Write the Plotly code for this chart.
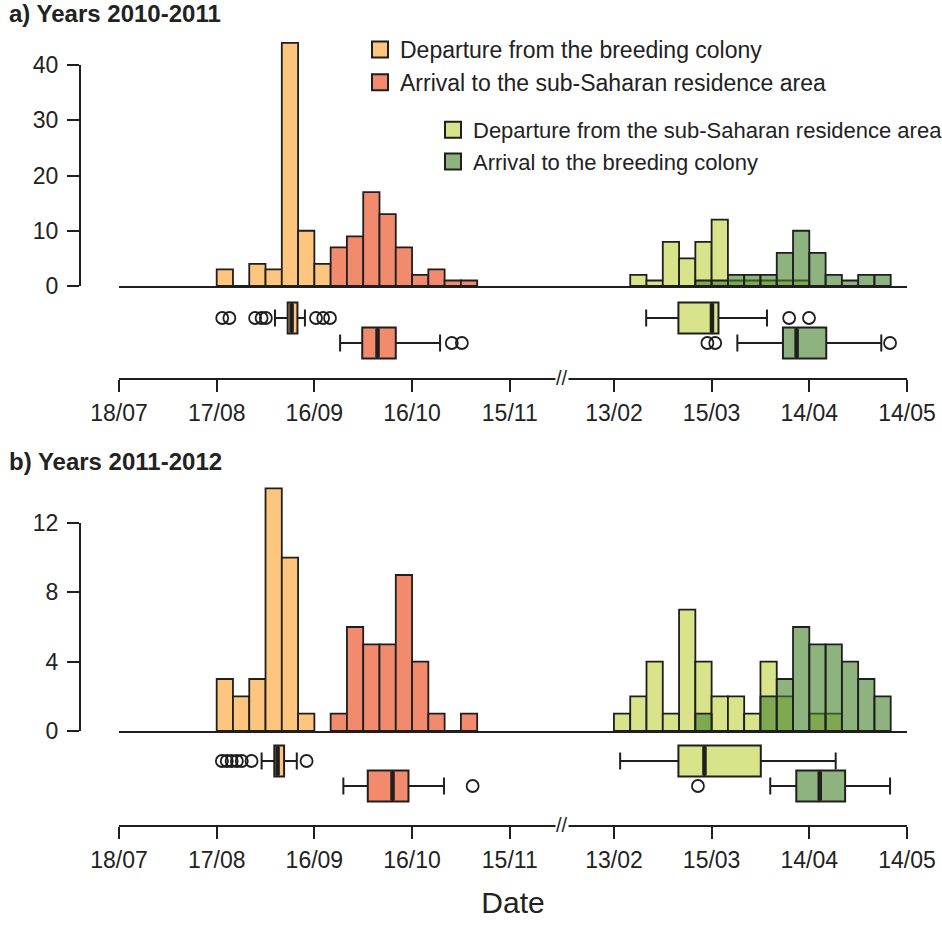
import plotly.graph_objects as go
import pandas as pd

W, H = 942, 932

# ---------------- tick dates / labels ----------------
autumn_tick_dates = ['2010-07-18', '2010-08-17', '2010-09-16', '2010-10-16', '2010-11-15']
spring_tick_dates = ['2011-02-13', '2011-03-15', '2011-04-14', '2011-05-14']
tick_labels = ['18/07', '17/08', '16/09', '16/10', '15/11', '13/02', '15/03', '14/04', '14/05']

BIN_W = 5            # days per histogram bin
SPRING_OFFSET = 152  # axis position where the spring period (13/02) starts after the break

# ---------------- histogram counts (5-day bins) ----------------
# (first bin start in days since period start, counts)
# Panel a: 2010-2011
a_dep_col_start, a_dep_col = 30, [3, 0, 4, 3, 44, 10, 4]
a_arr_sah_start, a_arr_sah = 65, [7, 9, 17, 13, 7, 2, 3, 1, 1]
a_dep_sah_start, a_dep_sah = 5, [2, 1, 8, 5, 8, 12, 1, 1, 1, 1, 1]
a_arr_col_start, a_arr_col = 25, [1, 1, 2, 2, 2, 6, 10, 6, 2, 1, 2, 2]
# Panel b: 2011-2012
b_dep_col_start, b_dep_col = 30, [3, 2, 3, 14, 10, 1]
b_arr_sah_start, b_arr_sah = 65, [1, 6, 5, 5, 9, 4, 1, 0, 1]
b_dep_sah_start, b_dep_sah = 0, [1, 2, 4, 1, 7, 4, 2, 2, 1, 4, 2, 0, 1, 1]
b_arr_col_start, b_arr_col = 25, [1, 0, 0, 0, 2, 3, 6, 5, 5, 4, 3, 2]

# ---------------- boxplot stats: [lower whisker, q1, median, q3, upper whisker] ----------------
a_box_dep_col = [47.9, 51.8, 53.0, 54.8, 57.1]
a_out_dep_col = [31.7, 33.9, 41.8, 43.8, 45.1, 60.5, 62.7, 64.8]
a_box_arr_sah = [67.9, 74.7, 79.4, 85.0, 98.6]
a_out_arr_sah = [102.2, 105.3]
a_box_dep_sah = [9.9, 19.8, 30.1, 32.1, 47.0]
a_out_dep_sah = [53.8, 59.9]
a_box_arr_col = [37.9, 51.9, 56.1, 65.2, 82.1]
a_out_arr_col = [28.7, 31.1, 84.8]

b_box_dep_col = [43.8, 47.7, 48.7, 50.7, 54.6]
b_out_dep_col = [31.6, 33.1, 34.6, 36.2, 37.7, 40.7, 57.6]
b_box_arr_sah = [68.9, 76.4, 84.0, 88.9, 99.8]
b_out_arr_sah = [108.6]
b_box_dep_sah = [1.9, 19.8, 27.8, 45.1, 68.1]
b_out_dep_sah = []
b_box_arr_col = [48.0, 56.0, 63.2, 71.0, 84.8]
b_out_arr_col = [25.8]

legend_labels = ['Departure from the breeding colony',
                 'Arrival to the sub-Saharan residence area',
                 'Departure from the sub-Saharan residence area',
                 'Arrival to the breeding colony']

# ---------------- styles ----------------
ORANGE = '#FEC57F'
RED = '#F28B6D'
LGREEN = '#D8E38A'
DGREEN = 'rgba(68,128,42,0.6)'
DGREEN_SOLID = '#8FB37F'
EDGE = '#1f1f1f'
FONT = 'Liberation Sans, Arial, Helvetica, sans-serif'
FS = 23
BOX_W = 1.24

# tick positions from dates
aut0 = pd.Timestamp(autumn_tick_dates[0])
spr0 = pd.Timestamp(spring_tick_dates[0])
tick_pos = [(pd.Timestamp(d) - aut0).days for d in autumn_tick_dates] + \
           [SPRING_OFFSET + (pd.Timestamp(d) - spr0).days for d in spring_tick_dates]
X_RANGE = [tick_pos[0], tick_pos[-1]]
BREAK_POS = (tick_pos[4] + tick_pos[5]) / 2


def px_x(p):
    return p / W


def px_y(p):
    return 1 - p / H


def centers(start, counts, offset=0):
    return [offset + start + BIN_W * (i + 0.5) for i in range(len(counts))]


fig = go.Figure()


def add_hist(start, counts, offset, color, xa, ya):
    fig.add_trace(go.Bar(x=centers(start, counts, offset), y=counts, width=BIN_W,
                         marker=dict(color=color, line=dict(color=EDGE, width=1.8)),
                         xaxis=xa, yaxis=ya, showlegend=False, hoverinfo='skip'))


def add_box(stats, outliers, offset, pos, fill, xa, ya):
    lo, q1, med, q3, hi = [v + offset for v in stats]
    fig.add_trace(go.Box(y=[pos], q1=[q1], median=[med], q3=[q3], lowerfence=[lo], upperfence=[hi],
                         orientation='h', width=BOX_W, whiskerwidth=0.55, boxpoints=False,
                         fillcolor=fill, line=dict(color=EDGE, width=2),
                         xaxis=xa, yaxis=ya, showlegend=False, hoverinfo='skip'))
    fig.add_trace(go.Scatter(x=[med, med], y=[pos - BOX_W / 2 + 0.04, pos + BOX_W / 2 - 0.04],
                             mode='lines', line=dict(color=EDGE, width=4.5),
                             xaxis=xa, yaxis=ya, showlegend=False, hoverinfo='skip'))
    if outliers:
        fig.add_trace(go.Scatter(x=[v + offset for v in outliers], y=[pos] * len(outliers),
                                 mode='markers',
                                 marker=dict(symbol='circle-open', size=12, color=EDGE,
                                             line=dict(width=1.8, color=EDGE)),
                                 xaxis=xa, yaxis=ya, showlegend=False, hoverinfo='skip'))


# ---- panel a ----
add_hist(a_dep_col_start, a_dep_col, 0, ORANGE, 'x3', 'y')
add_hist(a_arr_sah_start, a_arr_sah, 0, RED, 'x3', 'y')
add_hist(a_dep_sah_start, a_dep_sah, SPRING_OFFSET, LGREEN, 'x3', 'y')
add_hist(a_arr_col_start, a_arr_col, SPRING_OFFSET, DGREEN, 'x3', 'y')
add_box(a_box_dep_col, a_out_dep_col, 0, 2, ORANGE, 'x', 'y2')
add_box(a_box_arr_sah, a_out_arr_sah, 0, 1, RED, 'x', 'y2')
add_box(a_box_dep_sah, a_out_dep_sah, SPRING_OFFSET, 2, LGREEN, 'x', 'y2')
add_box(a_box_arr_col, a_out_arr_col, SPRING_OFFSET, 1, DGREEN_SOLID, 'x', 'y2')
fig.add_trace(go.Scatter(x=[None], y=[None], xaxis='x3', yaxis='y3', showlegend=False, hoverinfo='skip'))

# ---- panel b ----
add_hist(b_dep_col_start, b_dep_col, 0, ORANGE, 'x4', 'y4')
add_hist(b_arr_sah_start, b_arr_sah, 0, RED, 'x4', 'y4')
add_hist(b_dep_sah_start, b_dep_sah, SPRING_OFFSET, LGREEN, 'x4', 'y4')
add_hist(b_arr_col_start, b_arr_col, SPRING_OFFSET, DGREEN, 'x4', 'y4')
add_box(b_box_dep_col, b_out_dep_col, 0, 2, ORANGE, 'x2', 'y5')
add_box(b_box_arr_sah, b_out_arr_sah, 0, 1, RED, 'x2', 'y5')
add_box(b_box_dep_sah, b_out_dep_sah, SPRING_OFFSET, 2, LGREEN, 'x2', 'y5')
add_box(b_box_arr_col, b_out_arr_col, SPRING_OFFSET, 1, DGREEN_SOLID, 'x2', 'y5')
fig.add_trace(go.Scatter(x=[None], y=[None], xaxis='x4', yaxis='y6', showlegend=False, hoverinfo='skip'))

# ---- legend entries ----
for i, (lab, col, lg) in enumerate(zip(legend_labels, [ORANGE, RED, LGREEN, DGREEN_SOLID],
                                       ['legend', 'legend', 'legend2', 'legend2'])):
    fig.add_trace(go.Scatter(x=[None], y=[None], mode='markers', name=lab, legend=lg,
                             legendgroup='g%d' % i,
                             marker=dict(symbol='square', size=16, color=col,
                                         line=dict(color=EDGE, width=2))))

X_DOMAIN = [px_x(119), px_x(907)]
tickfont = dict(family=FONT, size=FS, color='#222')

xcommon = dict(domain=X_DOMAIN, range=X_RANGE, showgrid=False, zeroline=False,
               showline=True, linecolor=EDGE, linewidth=2)
xtick = dict(ticks='outside', ticklen=12, tickwidth=2, tickcolor=EDGE,
             tickvals=tick_pos, ticktext=tick_labels, tickfont=tickfont, ticklabelstandoff=1)
xbase = dict(showticklabels=False, ticks='')
hidden_y = dict(visible=False, showgrid=False, zeroline=False)
ytick = dict(anchor='free', position=px_x(80), showline=True, linecolor=EDGE, linewidth=2,
             ticks='outside', ticklen=12, tickwidth=2, tickcolor=EDGE, tickfont=tickfont,
             showgrid=False, zeroline=False, ticklabelstandoff=4)

fig.update_layout(
    width=W, height=H, margin=dict(l=0, r=0, t=0, b=0, autoexpand=False),
    template='none', paper_bgcolor='white', plot_bgcolor='rgba(0,0,0,0)',
    barmode='overlay', boxmode='overlay', font=dict(family=FONT, color='#222'),
    xaxis=dict(**xcommon, **xtick, anchor='y2'),
    xaxis2=dict(**xcommon, **xtick, anchor='y5',
                title=dict(text='Date', font=dict(family=FONT, size=30, color='#222'), standoff=20)),
    xaxis3=dict(**xcommon, **xbase, anchor='y'),
    xaxis4=dict(**xcommon, **xbase, anchor='y4'),
    yaxis=dict(**hidden_y, domain=[px_y(286), px_y(37.4)], range=[0, 45]),
    yaxis2=dict(**hidden_y, domain=[px_y(378), px_y(298)], range=[-0.4, 2.8]),
    yaxis3=dict(**ytick, domain=[px_y(286), px_y(65)], range=[0, 40], tickvals=[0, 10, 20, 30, 40]),
    yaxis4=dict(**hidden_y, domain=[px_y(731), px_y(479.7)], range=[0, 14.5]),
    yaxis5=dict(**hidden_y, domain=[px_y(825), px_y(740)], range=[-0.56, 2.84]),
    yaxis6=dict(**ytick, domain=[px_y(731), px_y(523)], range=[0, 12], tickvals=[0, 4, 8, 12]),
    legend=dict(x=px_x(360), y=px_y(28), xanchor='left', yanchor='top', bgcolor='rgba(0,0,0,0)',
                font=dict(family=FONT, size=23, color='#222'), tracegroupgap=0),
    legend2=dict(x=px_x(433), y=px_y(109), xanchor='left', yanchor='top', bgcolor='rgba(0,0,0,0)',
                 font=dict(family=FONT, size=22, color='#222'), tracegroupgap=0),
    annotations=[
        dict(text='<b>a) Years 2010-2011</b>', x=px_x(7), y=px_y(14), xref='paper', yref='paper',
             xanchor='left', yanchor='middle', showarrow=False, font=dict(family=FONT, size=24, color='#222')),
        dict(text='<b>b) Years 2011-2012</b>', x=px_x(7), y=px_y(461), xref='paper', yref='paper',
             xanchor='left', yanchor='middle', showarrow=False, font=dict(family=FONT, size=24, color='#222')),
        dict(text='//', x=BREAK_POS, y=0, xref='x', yref='y2 domain', showarrow=False,
             xanchor='center', yanchor='middle',
             bgcolor='white', borderpad=0, font=dict(family=FONT, size=20, color=EDGE)),
        dict(text='//', x=BREAK_POS, y=0, xref='x2', yref='y5 domain', showarrow=False,
             xanchor='center', yanchor='middle',
             bgcolor='white', borderpad=0, font=dict(family=FONT, size=20, color=EDGE)),
    ],
)

fig.write_html('out.html', config={'displayModeBar': False},
               post_script="document.body.style.margin='0';document.body.style.overflow='hidden';")
